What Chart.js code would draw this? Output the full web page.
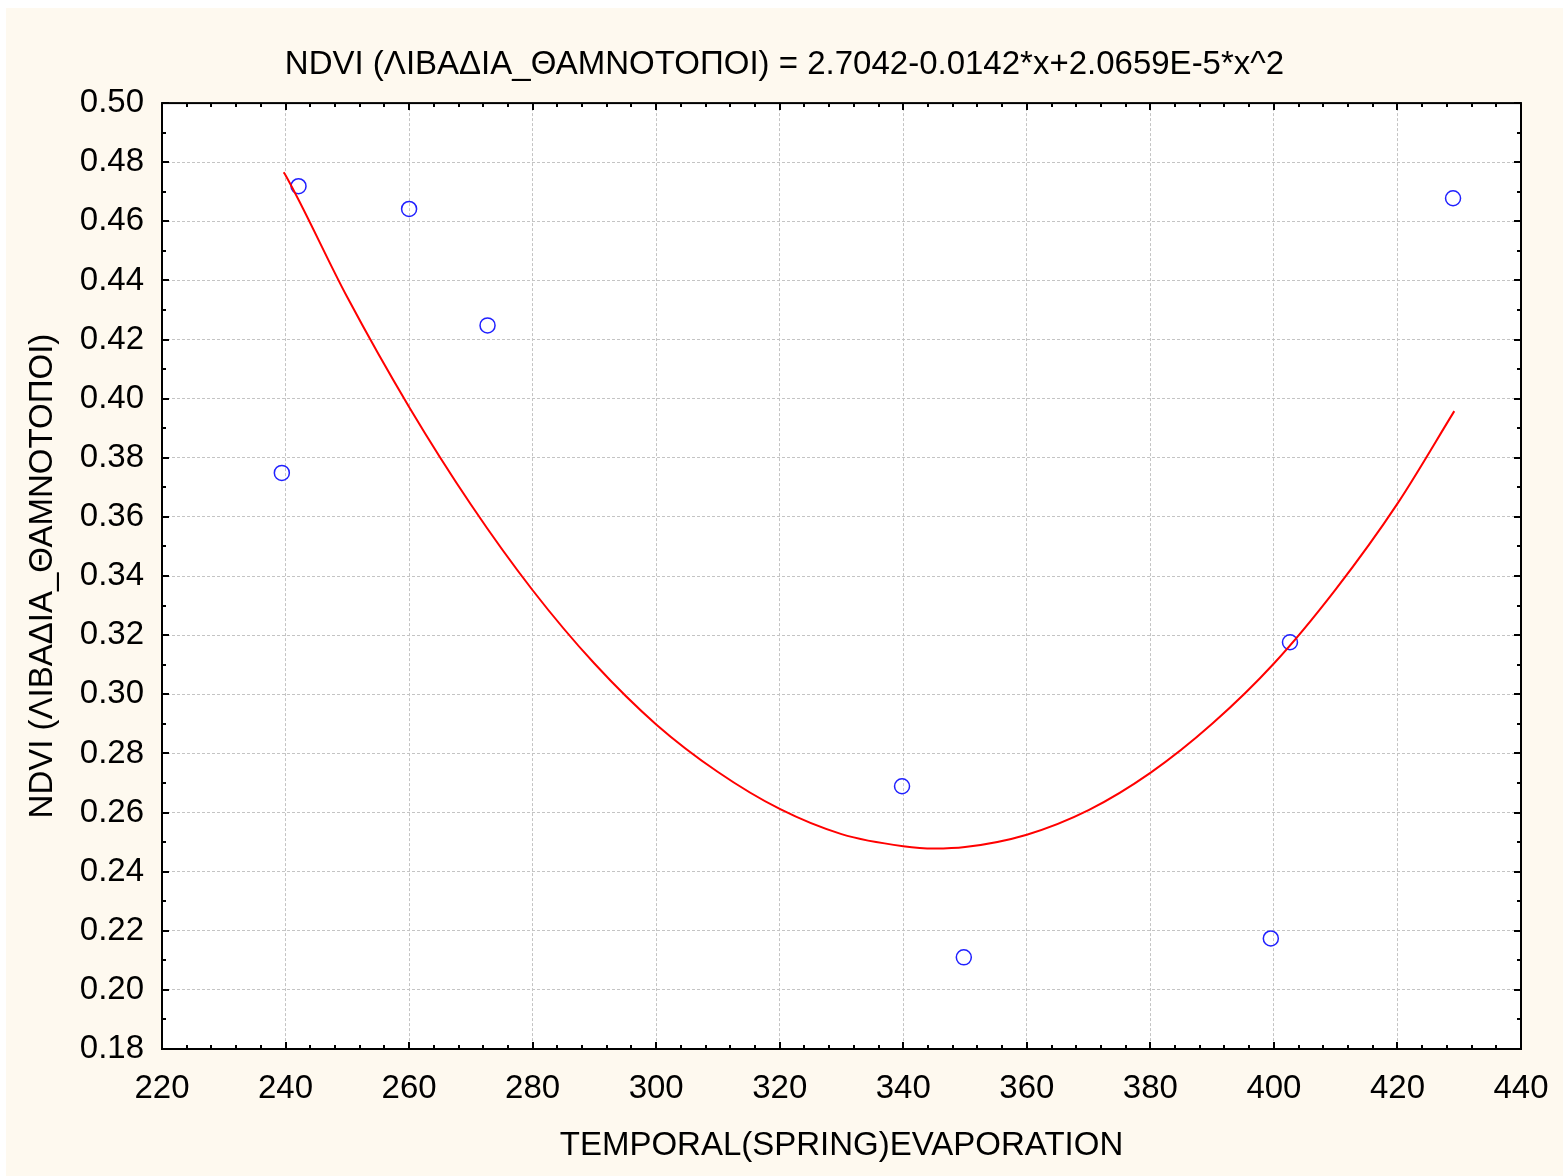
<!DOCTYPE html>
<html>
<head>
<meta charset="utf-8">
<title>NDVI vs spring evaporation</title>
<script src="https://cdn.jsdelivr.net/npm/chart.js@4"></script>
<style>
  html, body { margin: 0; padding: 0; background: #ffffff; }
  #wrap { position: absolute; left: 6px; top: 8px; }
</style>
</head>
<body>
<div id="wrap"><canvas id="fitChart" width="1557" height="1168"></canvas></div>
<script>
// observations: spring evaporation vs NDVI (meadows / shrubland)
const evapValues = [239.4, 242.1, 260.0, 272.7, 339.8, 349.8, 399.5, 402.6, 429.0];
const ndviValues = [0.3749, 0.4719, 0.4642, 0.4248, 0.2689, 0.2110, 0.2174, 0.3176, 0.4678];

const fitEvap = [239.7, 240, 250, 260, 270, 280, 290, 300, 310, 320, 330, 340, 345,
                 350, 360, 370, 380, 390, 400, 410, 420, 429.2];
const fitNdvi = [0.4766, 0.4756, 0.4343, 0.3972, 0.3642, 0.3352, 0.3104, 0.2898, 0.2737, 0.2612, 0.2527, 0.2486, 0.2478,
                 0.2483, 0.2525, 0.2608, 0.2734, 0.2900, 0.3104, 0.3355, 0.3645, 0.3958];

// axis ranges and tick steps
const xRange = { min: 220, max: 440, step: 20, minor: 4 };
const yRange = { min: 0.18, max: 0.50, step: 0.02, minor: 0.01 };

const chartTitle = 'NDVI (ΛΙΒΑΔΙΑ_ΘΑΜΝΟΤΟΠΟΙ) = 2.7042-0.0142*x+2.0659E-5*x^2';
const xTitle = 'TEMPORAL(SPRING)EVAPORATION';
const yTitle = 'NDVI (ΛΙΒΑΔΙΑ_ΘΑΜΝΟΤΟΠΟΙ)';

const fontFamily = '"Liberation Sans", Arial, Helvetica, sans-serif';

// cream page, white plot area
const backgroundPlugin = {
    id: 'backgroundPlugin',
    beforeDraw(chart) {
        const { ctx, chartArea: a } = chart;
        ctx.save();
        ctx.fillStyle = '#fef9ef';
        ctx.fillRect(0, 0, chart.width, chart.height);
        ctx.fillStyle = '#ffffff';
        ctx.fillRect(a.left, a.top, a.right - a.left, a.bottom - a.top);
        ctx.restore();
    }
};

// black frame with inward major/minor ticks on all four sides
const framePlugin = {
    id: 'framePlugin',
    afterDraw(chart) {
        const { ctx, chartArea: a } = chart;
        const xs = chart.scales.x, ys = chart.scales.y;
        ctx.save();
        ctx.strokeStyle = '#000000';
        ctx.lineWidth = 2;
        ctx.beginPath();
        const nx = Math.round((xRange.max - xRange.min) / xRange.minor);
        for (let i = 0; i <= nx; i++) {
            const v = xRange.min + i * xRange.minor;
            const px = Math.round(xs.getPixelForValue(v));
            const len = (i % (xRange.step / xRange.minor) === 0) ? 7 : 4;
            ctx.moveTo(px, a.bottom); ctx.lineTo(px, a.bottom - len);
            ctx.moveTo(px, a.top); ctx.lineTo(px, a.top + len);
        }
        const ny = Math.round((yRange.max - yRange.min) / yRange.minor);
        for (let i = 0; i <= ny; i++) {
            const v = yRange.min + i * yRange.minor;
            const py = Math.round(ys.getPixelForValue(v));
            const len = (i % 2 === 0) ? 7 : 4;
            ctx.moveTo(a.left, py); ctx.lineTo(a.left + len, py);
            ctx.moveTo(a.right, py); ctx.lineTo(a.right - len, py);
        }
        ctx.stroke();
        ctx.strokeRect(a.left, a.top, a.right - a.left, a.bottom - a.top);
        ctx.restore();
    }
};

const ctx = document.getElementById('fitChart').getContext('2d');
new Chart(ctx, {
    type: 'scatter',
    data: {
        datasets: [
            {
                label: 'fit',
                data: fitEvap.map((x, i) => ({ x: x, y: fitNdvi[i] })),
                showLine: true,
                borderColor: '#ff0000',
                borderWidth: 2,
                pointRadius: 0,
                cubicInterpolationMode: 'monotone',
                fill: false
            },
            {
                label: 'observed',
                data: evapValues.map((x, i) => ({ x: x, y: ndviValues[i] })),
                pointStyle: 'circle',
                pointRadius: 7.5,
                borderColor: '#2020ff',
                borderWidth: 1.5,
                backgroundColor: 'rgba(0,0,0,0)'
            }
        ]
    },
    options: {
        responsive: false,
        animation: false,
        layout: { padding: 0 },
        plugins: {
            legend: { display: false },
            tooltip: { enabled: false },
            title: {
                display: true,
                text: chartTitle,
                color: '#000000',
                font: { family: fontFamily, size: 33, weight: 'normal' },
                padding: { top: 37.5, bottom: 18 }
            }
        },
        scales: {
            x: {
                type: 'linear',
                min: xRange.min,
                max: xRange.max,
                afterFit: s => { s.height = 127; },
                ticks: {
                    stepSize: xRange.step,
                    color: '#000000',
                    // small padding + tall line box keeps the last label from widening the right margin
                    padding: 14,
                    font: { family: fontFamily, size: 33, lineHeight: 1.6 }
                },
                grid: { color: '#c4c4c4', lineWidth: 1, drawTicks: false },
                border: { display: false, dash: [3, 2] },
                title: {
                    display: true,
                    text: xTitle,
                    color: '#000000',
                    font: { family: fontFamily, size: 33 },
                    padding: { top: 0, bottom: 10 }
                }
            },
            y: {
                type: 'linear',
                min: yRange.min,
                max: yRange.max,
                afterFit: s => { s.width = 156; },
                ticks: {
                    stepSize: yRange.step,
                    color: '#000000',
                    padding: 18,
                    font: { family: fontFamily, size: 33 },
                    callback: v => v.toFixed(2)
                },
                grid: { color: '#c4c4c4', lineWidth: 1, drawTicks: false },
                border: { display: false, dash: [3, 2] },
                title: {
                    display: true,
                    text: yTitle,
                    color: '#000000',
                    font: { family: fontFamily, size: 33 },
                    padding: { top: 17, bottom: 0 }
                }
            },
            // spacer on the right so the plot stops short of the edge
            yRight: {
                type: 'linear',
                position: 'right',
                min: yRange.min,
                max: yRange.max,
                afterFit: s => { s.width = 42; },
                ticks: { display: false },
                grid: { display: false },
                border: { display: false }
            }
        }
    },
    plugins: [backgroundPlugin, framePlugin]
});
</script>
</body>
</html>
